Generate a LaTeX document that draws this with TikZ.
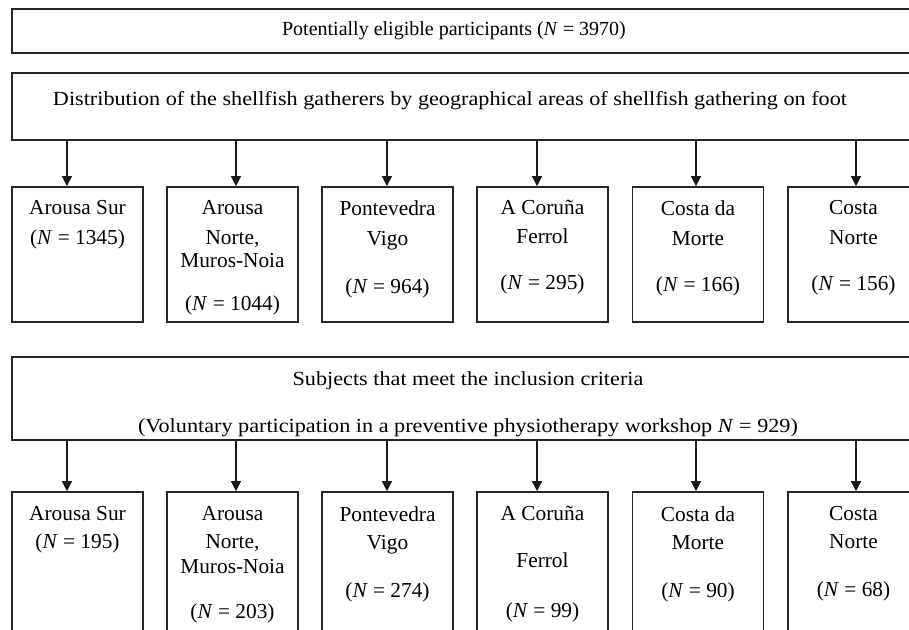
\documentclass[tikz,border=0pt]{standalone}
\usepackage{fontspec}
\usepackage{graphicx}
\setmainfont{Liberation Serif}
\usetikzlibrary{arrows.meta}
\newcommand{\wscale}[1]{\scalebox{1.11}[1]{#1}}
\begin{document}
\begin{tikzpicture}[x=0.75pt,y=-0.75pt,
  wbox/.style={draw=black!85, line width=1.3pt, inner sep=0, minimum width=684.75pt},
  sbox/.style={draw=black!85, line width=1.3pt, inner sep=0, minimum width=98.25pt},
  stxt/.style={inner sep=0, anchor=north, align=center, font=\fontsize{16}{22.5}\selectfont},
  wtxt/.style={inner sep=0, align=center, font=\fontsize{15}{35}\selectfont},
  arr/.style={draw=black!90, line width=1pt, -{Triangle[length=7.5pt,width=7.5pt]}}]
\useasboundingbox (0,0) rectangle (909,630);
\clip (0,0) rectangle (909,630);
\fill[white] (0,0) rectangle (909,630);
% wide boxes
\node[wbox, minimum height=33pt] (b1) at (468.5,31) {};
\node[wbox, minimum height=50.25pt] (b2) at (468.5,106.5) {};
\node[wbox, minimum height=62.25pt] (b3) at (468.5,398.5) {};
\node[wtxt, anchor=base] (tb1) at (454,36) {Potentially eligible participants (\textit{N} = 3970)};
\node[wtxt, anchor=base] (tb2) at (450,106) {\wscale{Distribution of the shellfish gatherers by geographical areas of shellfish gathering on foot}};
\node[wtxt] (tb3) at (468,404) {\wscale{Subjects that meet the inclusion criteria}\\\wscale{(Voluntary participation in a preventive physiotherapy workshop \textit{N} = 929)}};
% row 1
\foreach \n/\x in {a1/77.5,a2/232.5,a3/387.5,a4/542.5,a5/698,a6/853.5}
  \node[sbox, minimum height=101.25pt] (\n) at (\x,254.5) {};
\node[stxt] (ta1) at (77.5,200) {Arousa Sur\\(\textit{N} = 1345)};
\node[stxt] (ta2) at (232.5,200) {Arousa\\Norte,\\[-5.25pt]Muros-Noia\\[9.75pt](\textit{N} = 1044)};
\node[stxt] (ta3) at (387.5,200) {Pontevedra\\Vigo\\[13.5pt](\textit{N} = 964)};
\node[stxt] (ta4) at (542.5,200) {A Coruña\\[-0.75pt]Ferrol\\[12pt](\textit{N} = 295)};
\node[stxt] (ta5) at (698,200) {Costa da\\Morte\\[12pt](\textit{N} = 166)};
\node[stxt] (ta6) at (853.5,200) {Costa\\Norte\\[12pt](\textit{N} = 156)};
% row 2
\foreach \n/\x in {c1/77.5,c2/232.5,c3/387.5,c4/542.5,c5/698,c6/853.5}
  \node[sbox, minimum height=126pt] (\n) at (\x,576) {};
\node[stxt] (tc1) at (77.5,506) {Arousa Sur\\[-1.5pt](\textit{N} = 195)};
\node[stxt] (tc2) at (232.5,506) {Arousa\\[-1.5pt]Norte,\\[-3.75pt]Muros-Noia\\[11.25pt](\textit{N} = 203)};
\node[stxt] (tc3) at (387.5,506) {Pontevedra\\[-1.5pt]Vigo\\[13.5pt](\textit{N} = 274)};
\node[stxt] (tc4) at (542.5,506) {A Coruña\\[12.5pt]Ferrol\\[15.5pt](\textit{N} = 99)};
\node[stxt] (tc5) at (698,506) {Costa da\\[-1.5pt]Morte\\[13.5pt](\textit{N} = 90)};
\node[stxt] (tc6) at (853.5,506) {Costa\\[-1.5pt]Norte\\[13.5pt](\textit{N} = 68)};
% arrows
\foreach \n/\s in {1/-7.9pt,2/2.6pt,3/-0.4pt,4/-4.1pt,5/-1.5pt,6/1.9pt}{
  \draw[arr] ([xshift=\s]a\n.north |- b2.south) -- ([xshift=\s]a\n.north);
  \draw[arr] ([xshift=\s]c\n.north |- b3.south) -- ([xshift=\s]c\n.north);
}
\end{tikzpicture}
\end{document}
